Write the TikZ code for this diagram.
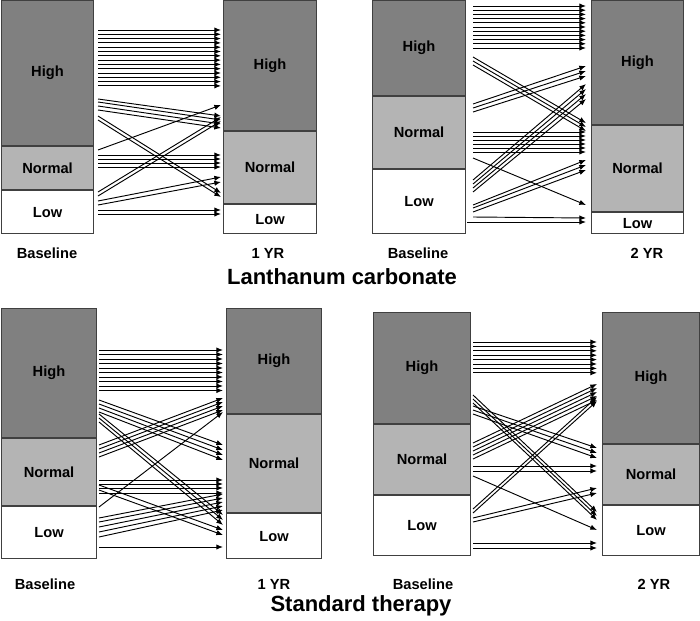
\documentclass[tikz,border=0pt]{standalone}
\usepackage{fontspec}
\setmainfont{Liberation Sans}
\usetikzlibrary{arrows.meta,calc}
\definecolor{highgray}{HTML}{808080}
\definecolor{normalgray}{HTML}{B4B4B4}
\definecolor{framegray}{HTML}{404040}

% #1 start coordinate, #2 end coordinate, #3 list of y-start/y-end
\newcommand{\flows}[3]{\foreach \ya/\yb in {#3} \draw[flow] ($(#1)+(0,\ya)$) -- ($(#2)+(0,\yb)$);}
% #1 start, #2 end, #3 first y, #4 step, #5 last index
\newcommand{\stays}[5]{\foreach \i in {0,...,#5} \draw[flow] ($(#1)+(0,{#3+#4*\i})$) -- ($(#2)+(0,{#3+#4*\i})$);}

\begin{document}
\begin{tikzpicture}[x=0.75pt,y=-0.75pt,
	seg/.style 2 args={draw=framegray,line width=0.8pt,anchor=north west,inner sep=0pt,
		minimum width=#1*0.75pt,minimum height=#2*0.75pt,font=\bfseries\fontsize{11}{13}\selectfont},
	flow/.style={line width=0.7pt,draw=black,-{Latex[length=5pt,width=4pt]}},
	lab/.style={font=\bfseries\fontsize{11}{13}\selectfont},
	title/.style={font=\bfseries\fontsize{16.5}{19}\selectfont}]
	\useasboundingbox (0,0) rectangle (700,621);

	% Lanthanum carbonate, 1 YR
	\node[seg={92}{145},fill=highgray] (lc1-bh) at (1,0) {High};
	\node[seg={92}{43},fill=normalgray] (lc1-bn) at (lc1-bh.south west) {Normal};
	\node[seg={92}{43},fill=white] (lc1-bl) at (lc1-bn.south west) {Low};
	\node[seg={93}{130},fill=highgray] (lc1-fh) at (223,0) {High};
	\node[seg={93}{72},fill=normalgray] (lc1-fn) at (lc1-fh.south west) {Normal};
	\node[seg={93}{29},fill=white] (lc1-fl) at (lc1-fn.south west) {Low};
	\coordinate (lc1-s) at (98,0);
	\coordinate (lc1-e) at (221,0);
	\stays{lc1-s}{lc1-e}{30}{4.3}{13}
	\flows{lc1-s}{lc1-e}{99/116,102/120,106/124,110/128,116/193,120/197,150/105,155/155,159/159,163/163,167/167,
		192/117,196/121,201/177,205/182,210/210,214/214}
	\node[lab] (lc1-tb) at (47,253) {Baseline};
	\node[lab] (lc1-tf) at (268,253) {1 YR};

	% Lanthanum carbonate, 2 YR
	\node[seg={93}{95},fill=highgray] (lc2-bh) at (372,0) {High};
	\node[seg={93}{72},fill=normalgray] (lc2-bn) at (lc2-bh.south west) {Normal};
	\node[seg={93}{64},fill=white] (lc2-bl) at (lc2-bn.south west) {Low};
	\node[seg={92}{124},fill=highgray] (lc2-fh) at (591,0) {High};
	\node[seg={92}{86},fill=normalgray] (lc2-fn) at (lc2-fh.south west) {Normal};
	\node[seg={92}{21},fill=white] (lc2-fl) at (lc2-fn.south west) {Low};
	\coordinate (lc2-s) at (473,0);
	\coordinate (lc2-e) at (586,0);
	\stays{lc2-s}{lc2-e}{6}{4.2}{10}
	\flows{lc2-s}{lc2-e}{57/123,61/127,65/131,104/66,108/71,112/76,132/132,136/136,140/140,144/144,148/148,152/152,
		158/205,180/84,184/89,188/94,192/99,205/160,208/165,212/170,217/218}
	\coordinate (lc2-s2) at (467,222);
	\draw[flow] (lc2-s2) -- (lc2-s2 -| lc2-e);
	\node[lab] (lc2-tb) at (418,253) {Baseline};
	\node[lab] (lc2-tf) at (647,253) {2 YR};
	\node[title] (lc-title) at (342,277) {Lanthanum carbonate};

	% Standard therapy, 1 YR
	\node[seg={95}{129},fill=highgray] (st1-bh) at (1,308) {High};
	\node[seg={95}{67},fill=normalgray] (st1-bn) at (st1-bh.south west) {Normal};
	\node[seg={95}{52},fill=white] (st1-bl) at (st1-bn.south west) {Low};
	\node[seg={95}{105},fill=highgray] (st1-fh) at (226,308) {High};
	\node[seg={95}{98},fill=normalgray] (st1-fn) at (st1-fh.south west) {Normal};
	\node[seg={95}{45},fill=white] (st1-fl) at (st1-fn.south west) {Low};
	\coordinate (st1-s) at (99,0);
	\coordinate (st1-e) at (223,0);
	\stays{st1-s}{st1-e}{350}{4.5}{9}
	\flows{st1-s}{st1-e}{400/445,404/450,408/455,412/460,414/515,418/520,422/525,445/398,449/402,453/406,457/410,
		507/412,480/480,484/484,488/488,493/493,485/530,490/535,518/494,522/498,527/502,532/506,537/510,547/547}
	\node[lab] (st1-tb) at (45,584) {Baseline};
	\node[lab] (st1-tf) at (274,584) {1 YR};

	% Standard therapy, 2 YR
	\node[seg={97}{111},fill=highgray] (st2-bh) at (373,312) {High};
	\node[seg={97}{70},fill=normalgray] (st2-bn) at (st2-bh.south west) {Normal};
	\node[seg={97}{60},fill=white] (st2-bl) at (st2-bn.south west) {Low};
	\node[seg={97}{131},fill=highgray] (st2-fh) at (602,312) {High};
	\node[seg={97}{60},fill=normalgray] (st2-fn) at (st2-fh.south west) {Normal};
	\node[seg={97}{50},fill=white] (st2-fl) at (st2-fn.south west) {Low};
	\coordinate (st2-s) at (473,0);
	\coordinate (st2-e) at (597,0);
	\stays{st2-s}{st2-e}{342}{4.4}{7}
	\flows{st2-s}{st2-e}{406/448,410/453,414/458,395/512,399/516,403/520,443/384,447/388,451/392,455/396,459/400,
		466/466,471/471,476/530,509/397,513/401,518/488,522/493,543/543,548/548}
	\node[lab] (st2-tb) at (423,584) {Baseline};
	\node[lab] (st2-tf) at (654,584) {2 YR};
	\node[title] (st-title) at (361,606) {Standard therapy};
\end{tikzpicture}
\end{document}
